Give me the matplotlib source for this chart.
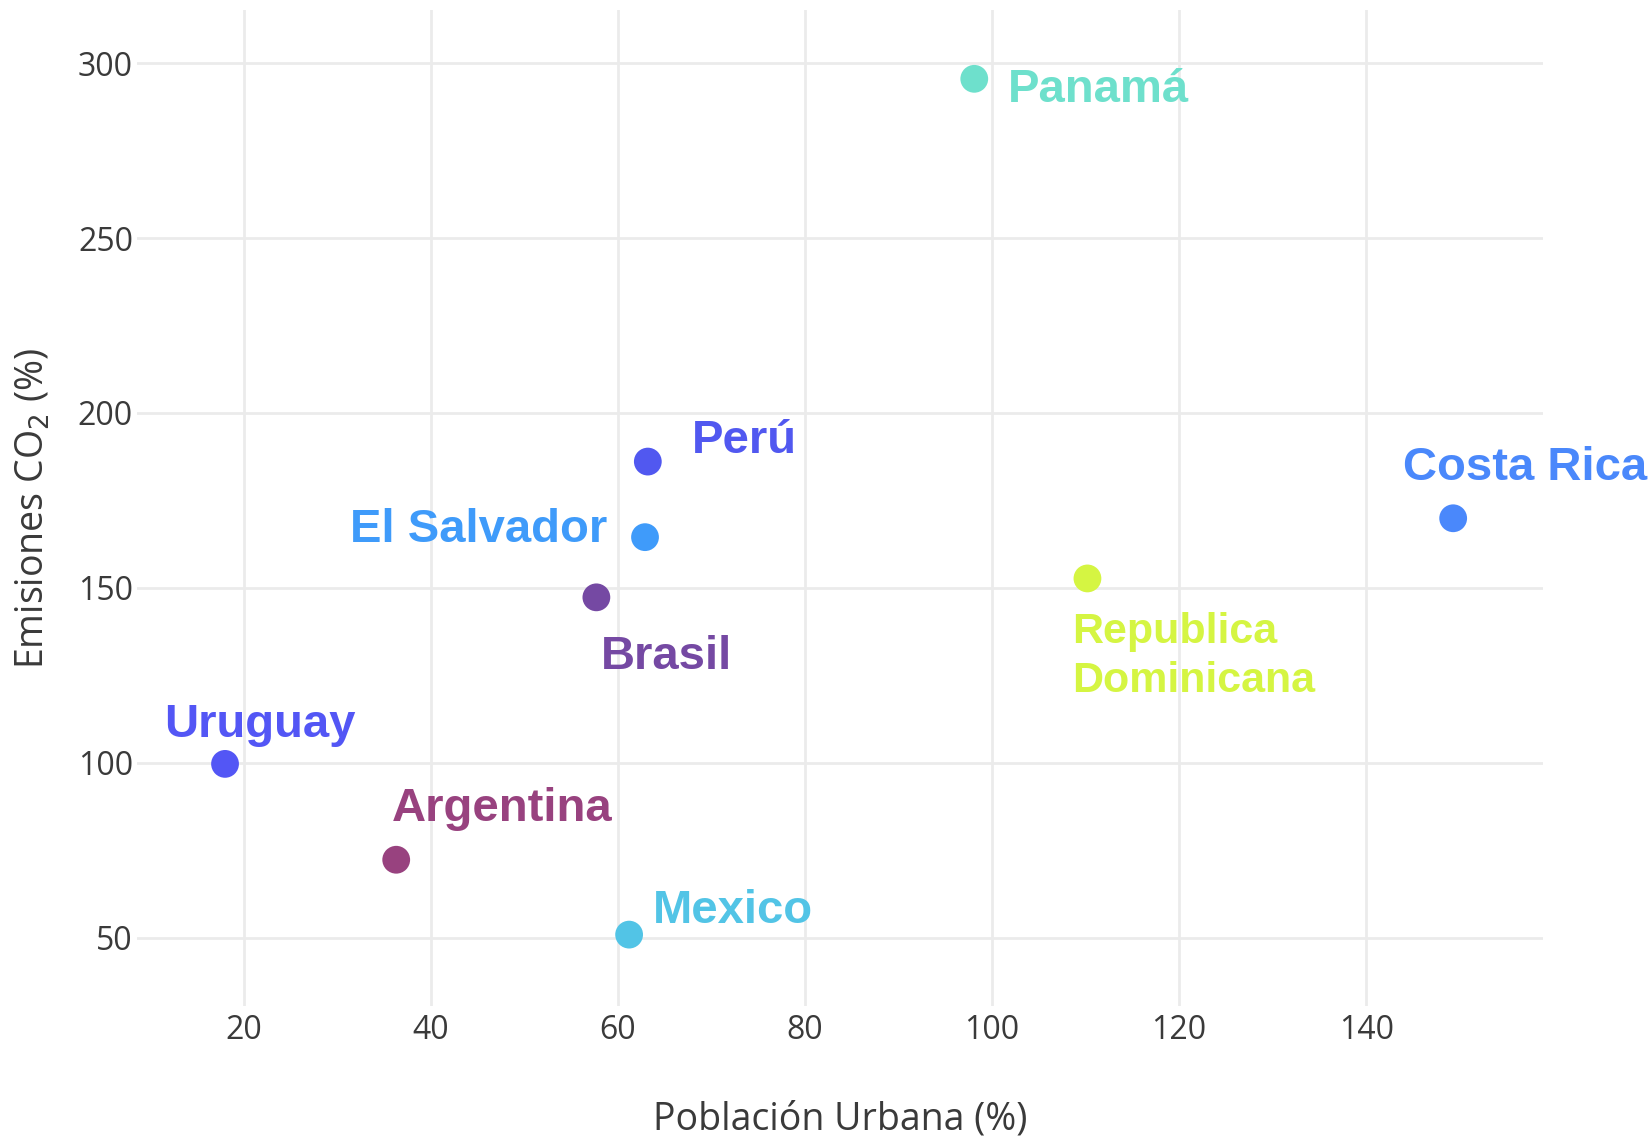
import matplotlib
matplotlib.use("Agg")
import matplotlib.pyplot as plt

# data
paises = ["Panamá", "Perú", "El Salvador", "Brasil", "Costa Rica",
          "Republica\nDominicana", "Uruguay", "Argentina", "Mexico"]
poblacion_urbana = [98.1, 63.2, 62.9, 57.7, 149.3, 110.2, 18.0, 36.3, 61.2]
emisiones_co2 = [295.5, 186.1, 164.5, 147.3, 169.9, 152.7, 99.7, 72.3, 50.9]
colores = ["#6ee0cc", "#5158f0", "#3f9bfa", "#7549a3", "#4a88fb",
           "#d5f542", "#5356f5", "#98427f", "#52c4e6"]

x_ticks = [20, 40, 60, 80, 100, 120, 140]
y_ticks = [50, 100, 150, 200, 250, 300]

# label placement (offset in pixels from the point, alignment, size)
etiquetas = {
    "Panamá": (34, -11, "left", 34),
    "Perú": (44, 21, "left", 34),
    "El Salvador": (-38, 7, "right", 34),
    "Brasil": (4, -60, "left", 34),
    "Costa Rica": (-50, 50, "left", 34),
    "Republica\nDominicana": (-15, -78, "left", 31),
    "Uruguay": (-61, 39, "left", 34),
    "Argentina": (-4, 51, "left", 34),
    "Mexico": (24, 24, "left", 34),
}

fig = plt.figure(figsize=(16.52, 11.38), dpi=100, facecolor="white")
ax = fig.add_axes([0.083, 0.116, 0.851, 0.875])

ax.scatter(poblacion_urbana, emisiones_co2, s=400, c=colores, zorder=3, linewidths=0)

for pais, x, y, col in zip(paises, poblacion_urbana, emisiones_co2, colores):
    dx, dy, ha, fs = etiquetas[pais]
    ax.annotate(pais, (x, y), xytext=(dx, dy), textcoords="offset pixels",
                ha=ha, va="center", color=col, fontsize=fs, fontweight="bold",
                family="Liberation Sans", linespacing=1.3,
                annotation_clip=False, zorder=4)

ax.set_xlim(8.6, 158.9)
ax.set_ylim(30.5, 315.1)
ax.set_xticks(x_ticks)
ax.set_yticks(y_ticks)

for s in ax.spines.values():
    s.set_visible(False)
ax.grid(True, color="#ebebeb", linewidth=2)
ax.set_axisbelow(True)
ax.tick_params(length=0, labelsize=23, labelcolor="#3a3a3a")
ax.tick_params(axis="y", pad=3)
ax.tick_params(axis="x", pad=6)
for lab in ax.get_xticklabels() + ax.get_yticklabels():
    lab.set_family("Open Sans")

ax.set_xlabel("Población Urbana (%)", fontsize=27, color="#3a3a3a",
              family="Open Sans", labelpad=38)
ax.set_ylabel("Emisiones CO$_2$ (%)", fontsize=27, color="#3a3a3a",
              family="Open Sans", labelpad=18)

fig.savefig("out.png", dpi=100, facecolor="white")
